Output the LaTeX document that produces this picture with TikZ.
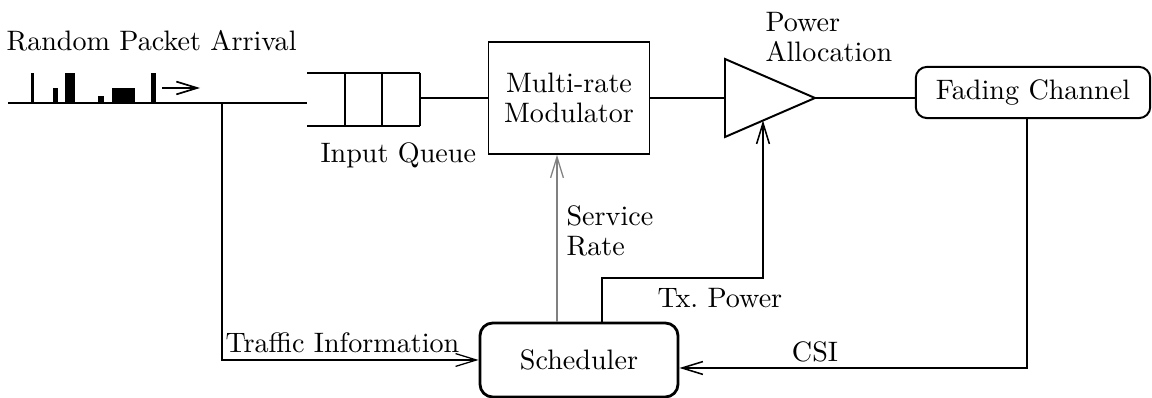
\documentclass[tikz,border=0pt]{standalone}
\usetikzlibrary{arrows.meta}

\begin{document}
\begin{tikzpicture}[x=0.0125cm,y=-0.0125cm,
        >={Straight Barb[length=2.6mm,width=1.6mm]},
        lbl/.style={inner sep=0pt,font=\fontsize{10pt}{10.6pt}\selectfont},
        blk/.style={draw,line width=0.6pt,align=center,font=\fontsize{10pt}{10.8pt}\selectfont},
        sig/.style={line width=0.9pt},
        ctl/.style={->,line width=0.45pt}]
    \useasboundingbox (0,0) rectangle (1152,398);

    % Paketankunft
    \coordinate (arr-start) at (8,103);
    \coordinate (queue-in) at (307,103);
    \coordinate (tap) at (222,103);
    \draw[sig] (arr-start) -- (queue-in);
    \foreach \a/\b/\t in {31/34/73, 53/58/88, 65/75/73, 98/104/96, 112/135/88, 151/156/73} {
        \fill (\a,103) rectangle (\b,\t);
    }
    \draw[->,line width=0.6pt] (162,88) -- (200,88);
    \node[lbl,anchor=base west] (arrival-lbl) at (6,51) {Random Packet Arrival};

    % Warteschlange
    \draw[line width=0.7pt] (307,73) -- (420,73);
    \draw[line width=0.7pt] (307,126) -- (420,126);
    \foreach \x in {345,382,420} {
        \draw[line width=0.7pt] (\x,73) -- (\x,126);
    }
    \coordinate (queue-out) at (420,98);
    \node[lbl,anchor=base west] (queue-lbl) at (320,163) {Input Queue};

    % Modulator, Verstaerker, Kanal
    \node[blk,minimum width=2.01cm,minimum height=1.4cm] (mod) at (569,98) {Multi-rate\\Modulator};
    \coordinate (amp-in) at (725,98);
    \coordinate (amp-out) at (815,98);
    \coordinate (amp-ctl) at (763,120.5);
    \draw[line width=0.7pt] (725,59) -- (amp-out) -- (725,137) -- cycle;
    \node[lbl,anchor=north west,align=left] (power-lbl) at (765,12) {Power\\Allocation};
    \node[blk,line width=0.7pt,rounded corners=0.14cm,minimum width=2.93cm,minimum height=0.64cm]
        (fade) at (1033,92.5) {Fading Channel};

    \draw[sig] (queue-out) -- (mod.west |- queue-out);
    \draw[sig] (mod.east |- amp-in) -- (amp-in);
    \draw[line width=0.7pt] (amp-out) -- (fade.west |- amp-out);

    % Scheduler und Rueckkopplung
    \node[blk,line width=1pt,rounded corners=0.16cm,minimum width=2.475cm,minimum height=0.925cm]
        (sched) at (579,360) {Scheduler};

    \draw[ctl] (tap) |- (sched.west);
    \node[lbl,anchor=base west] (traffic-lbl) at (225,353) {Traffic Information};

    \coordinate (svc) at (557,0);
    \draw[ctl,gray] (sched.north -| svc) -- (mod.south -| svc);
    \node[lbl,anchor=north west,align=left] (svc-lbl) at (566,205) {Service\\Rate};

    \coordinate (tx-bend) at (602,278);
    \draw[ctl,line width=0.55pt] (sched.north -| tx-bend) -- (tx-bend) -- (tx-bend -| amp-ctl) -- (amp-ctl);
    \node[lbl,anchor=base west] (tx-lbl) at (657,308) {Tx.\ Power};

    \coordinate (csi) at (1027,368);
    \draw[ctl,line width=0.55pt] (fade.south -| csi) -- (csi) -- (csi -| sched.east);
    \node[lbl,anchor=base] (csi-lbl) at (815,362) {CSI};
\end{tikzpicture}
\end{document}
